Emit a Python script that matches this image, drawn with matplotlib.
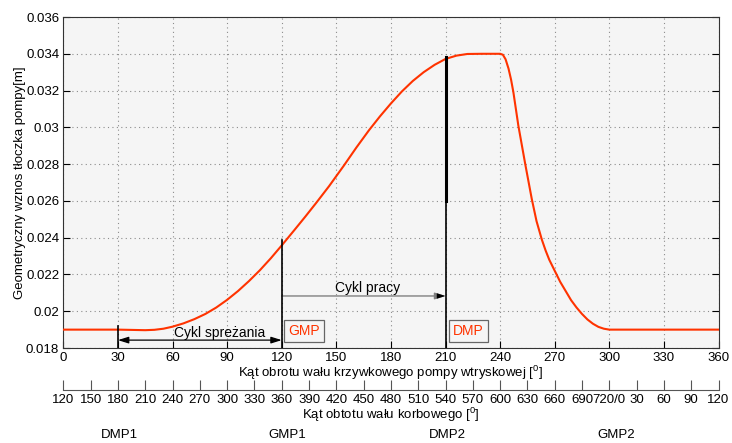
import numpy as np
import matplotlib
matplotlib.use('Agg')
import matplotlib.pyplot as plt
from matplotlib import transforms

plt.rcParams['font.family'] = ['Liberation Sans', 'DejaVu Sans']
plt.rcParams['font.size'] = 9
plt.rcParams['mathtext.fontset'] = 'custom'
plt.rcParams['mathtext.rm'] = 'Liberation Sans'

# Pump plunger lift
angle = [0, 30, 40, 45, 50, 55, 60, 66, 72, 78, 84, 90, 96, 102, 108, 114,
         120, 127, 133, 139, 146, 154, 161, 168, 174, 180, 186, 192, 198,
         204, 210, 216, 222, 230, 240, 241.5, 243, 244.6, 246, 247.3, 250,
         253.8, 257.4, 260, 262.9, 265, 267, 270, 273, 276, 279, 282, 285,
         288, 291, 294, 297, 300, 360]
lift = [0.0190, 0.0190, 0.01898, 0.01897, 0.01899, 0.01905, 0.01916, 0.01934,
        0.01957, 0.01985, 0.02020, 0.02062, 0.02110, 0.02164, 0.02223,
        0.02288, 0.02358, 0.02442, 0.02515, 0.02590, 0.02680, 0.02790,
        0.02890, 0.02985, 0.03060, 0.03130, 0.03195, 0.03252, 0.03300,
        0.03340, 0.03372, 0.03390, 0.03399, 0.0340, 0.0340, 0.03395, 0.0337,
        0.0332, 0.0326, 0.0319, 0.0301, 0.0280, 0.0261, 0.0249, 0.0239,
        0.0233, 0.0228, 0.0222, 0.0216, 0.0211, 0.0206, 0.0202, 0.01985,
        0.01955, 0.01932, 0.01915, 0.01905, 0.0190, 0.0190]

pump_ticks = list(range(0, 361, 30))
crank_pos = list(range(0, 361, 15))
crank_labels = ['120', '150', '180', '210', '240', '270', '300', '330', '360',
                '390', '420', '450', '480', '510', '540', '570', '600', '630',
                '660', '690', '720/0', '30', '60', '90', '120']
y_ticks = [0.018, 0.020, 0.022, 0.024, 0.026, 0.028, 0.030, 0.032, 0.034, 0.036]
y_labels = ['0.018', '0.02', '0.022', '0.024', '0.026', '0.028', '0.03',
            '0.032', '0.034', '0.036']

# marker lines: (angle, bottom, top)
markers = [(30, 0.018, 0.0192), (120, 0.018, 0.0239)]
dead_points = ['DMP1', 'GMP1', 'DMP2', 'GMP2']
dead_x = [31, 123, 211, 304]

fig = plt.figure(figsize=(7.32, 4.43), dpi=100)
ax = fig.add_axes([0.0865, 0.2144, 0.8951, 0.7472])
ax.set_facecolor('#f5f5f5')

ax.plot(angle, lift, color='#ff3300', lw=1.5, zorder=3,
        solid_joinstyle='round')

for x, y0, y1 in markers:
    ax.plot([x, x], [y0, y1], color='black', lw=1.2, zorder=4)
ax.plot([210, 210], [0.018, 0.026], color='black', lw=1.2, zorder=4)
ax.plot([210, 210], [0.026, 0.03384], color='black', lw=2.2, zorder=4)

# cycle arrows
ax.annotate('', xy=(30, 0.01843), xytext=(120, 0.01843),
            arrowprops=dict(arrowstyle='<|-|>,head_length=0.7,head_width=0.22',
                            color='black', lw=0.9, shrinkA=0, shrinkB=0))
ax.text(86, 0.01883, 'Cykl spreżania', ha='center', va='center', fontsize=10)
ax.annotate('', xy=(210, 0.02083), xytext=(120, 0.02083),
            arrowprops=dict(arrowstyle='-|>,head_length=0.7,head_width=0.22',
                            color='#808080', lw=1.0, shrinkA=0, shrinkB=0))
ax.annotate('', xy=(210, 0.02083), xytext=(205, 0.02083),
            arrowprops=dict(arrowstyle='-|>,head_length=0.7,head_width=0.22',
                            color='black', lw=0, shrinkA=0, shrinkB=0))
ax.text(167, 0.02125, 'Cykl pracy', ha='center', va='center', fontsize=10)

box = dict(boxstyle='square,pad=0.3', fc='#f5f5f5', ec='#666666', lw=0.9)
ax.text(132.3, 0.01891, 'GMP', color='#ff3300', ha='center', va='center',
        fontsize=10, bbox=box)
ax.text(222.6, 0.01891, 'DMP', color='#ff3300', ha='center', va='center',
        fontsize=10, bbox=box)

ax.set_xlim(0, 360)
ax.set_ylim(0.018, 0.036)
ax.set_xticks(pump_ticks)
ax.set_yticks(y_ticks)
ax.set_yticklabels(y_labels)
ax.grid(True, color='#8c8c8c', linestyle=(0, (1, 3)), lw=0.8)
ax.tick_params(direction='in', length=5, top=True, right=True, pad=3,
               labelsize=9.5)
for s in ax.spines.values():
    s.set_color('#333333')
    s.set_linewidth(0.8)
ax.set_xlabel('Kąt obrotu wału krzywkowego pompy wtryskowej [$^0$]',
              fontsize=9.5, labelpad=0)
ax.set_ylabel('Geometryczny wznos tłoczka pompy[m]', fontsize=9.5, labelpad=0)

# crankshaft axis
ax2 = ax.twiny()
ax2.set_xlim(0, 360)
ax2.xaxis.set_ticks_position('bottom')
ax2.xaxis.set_label_position('bottom')
ax2.spines['bottom'].set_position(('outward', 30))
for k in ['top', 'left', 'right']:
    ax2.spines[k].set_visible(False)
ax2.spines['bottom'].set_color('#555555')
ax2.spines['bottom'].set_linewidth(0.8)
ax2.set_xticks(crank_pos)
ax2.set_xticklabels(crank_labels)
ax2.tick_params(direction='in', length=7, pad=3, labelsize=9.5,
                color='#555555')
ax2.set_xlabel('Kąt obtotu wału korbowego [$^0$]', fontsize=9.5, labelpad=0)

trans = transforms.blended_transform_factory(ax.transData, fig.transFigure)
for name, x in zip(dead_points, dead_x):
    ax.text(x, 0.018, name, transform=trans, ha='center', va='center',
            fontsize=9.5)

fig.savefig('out.png', dpi=100)
